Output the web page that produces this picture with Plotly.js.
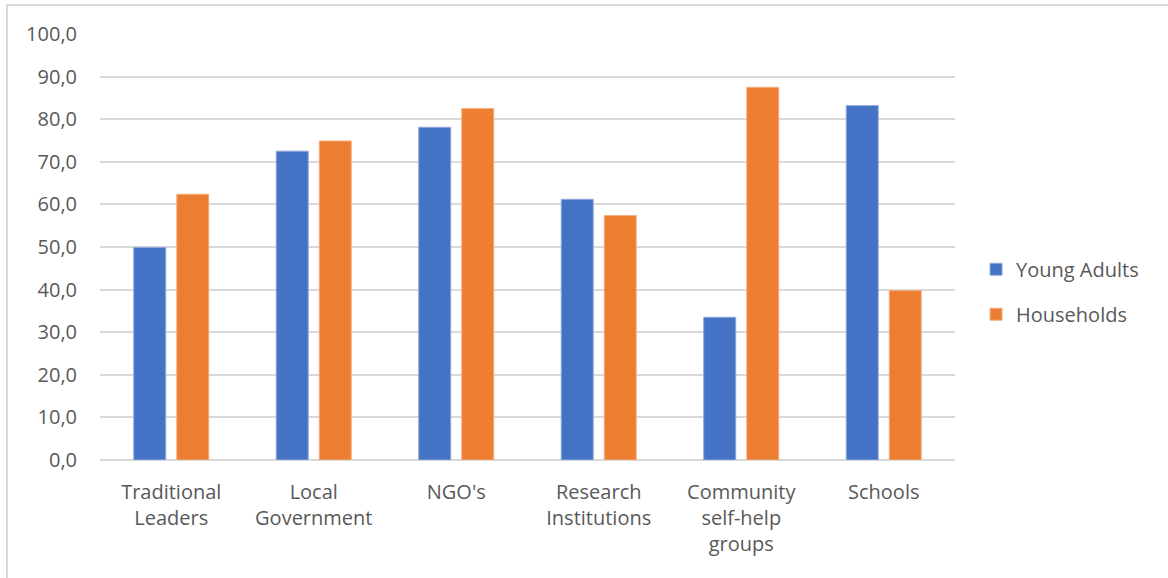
<!DOCTYPE html>
<html>
<head>
<meta charset="utf-8">
<script src="https://cdn.plot.ly/plotly-3.0.1.min.js"></script>
<style>
  html, body { margin: 0; padding: 0; background: #ffffff; }
  #wrap { position: relative; width: 1168px; height: 578px; overflow: hidden; }
  #frame { position: absolute; left: 6px; top: 4px; width: 1170px; height: 580px;
           border-left: 2px solid #d9d9d9; border-top: 2px solid #d9d9d9; pointer-events: none; }
  #chart { position: absolute; left: 0; top: 0; width: 1168px; height: 578px; }
</style>
</head>
<body>
<div id="wrap">
  <div id="chart"></div>
  <div id="frame"></div>
</div>
<script>
const categories = ["Traditional<br>Leaders", "Local<br>Government", "NGO's", "Research<br>Institutions", "Community<br>self-help<br>groups", "Schools"];
const youngAdults = [49.9, 72.5, 78.1, 61.2, 33.5, 83.2];
const households = [62.4, 74.9, 82.5, 57.4, 87.5, 39.8];
const yTicks = [0, 10, 20, 30, 40, 50, 60, 70, 80, 90, 100];
const yTickText = ["0,0", "10,0", "20,0", "30,0", "40,0", "50,0", "60,0", "70,0", "80,0", "90,0", "100,0"];

const font = "'Open Sans', sans-serif";
const traces = [
  { type: "bar", name: "Young Adults", x: categories, y: youngAdults, legendgroup: "a",
    marker: { color: "#4472C4", line: { color: "#8faadc", width: 1 } }, hoverinfo: "y" },
  { type: "bar", name: "Households", x: categories, y: households, legendgroup: "b",
    marker: { color: "#ED7D31", line: { color: "#f4b183", width: 1 } }, hoverinfo: "y" }
];
const layout = {
  width: 1168, height: 578,
  margin: { l: 100, r: 213, t: 34, b: 118 },
  paper_bgcolor: "rgba(0,0,0,0)", plot_bgcolor: "rgba(0,0,0,0)",
  barmode: "group", bargap: 0.396, bargroupgap: 0.256,
  font: { family: font, size: 20, color: "#595959" },
  xaxis: { showgrid: false, showline: false, zeroline: false, ticks: "", ticklabelstandoff: 18,
           tickfont: { family: font, size: 20, color: "#595959" }, automargin: false },
  yaxis: { range: [0, 100], tickvals: yTicks, ticktext: yTickText, showgrid: true,
           gridcolor: "#d9d9d9", gridwidth: 2, zeroline: true, zerolinecolor: "#d9d9d9", zerolinewidth: 2,
           showline: false, ticks: "", ticklabelstandoff: 22,
           tickfont: { family: font, size: 20, color: "#595959" }, automargin: false },
  showlegend: true,
  legend: { x: 1.0246, y: 0.395, xanchor: "left", yanchor: "middle", tracegroupgap: 16,
            font: { family: font, size: 20, color: "#595959" }, itemwidth: 30, bgcolor: "rgba(0,0,0,0)" }
};
Plotly.newPlot("chart", traces, layout, { displayModeBar: false, staticPlot: true });
</script>
</body>
</html>
